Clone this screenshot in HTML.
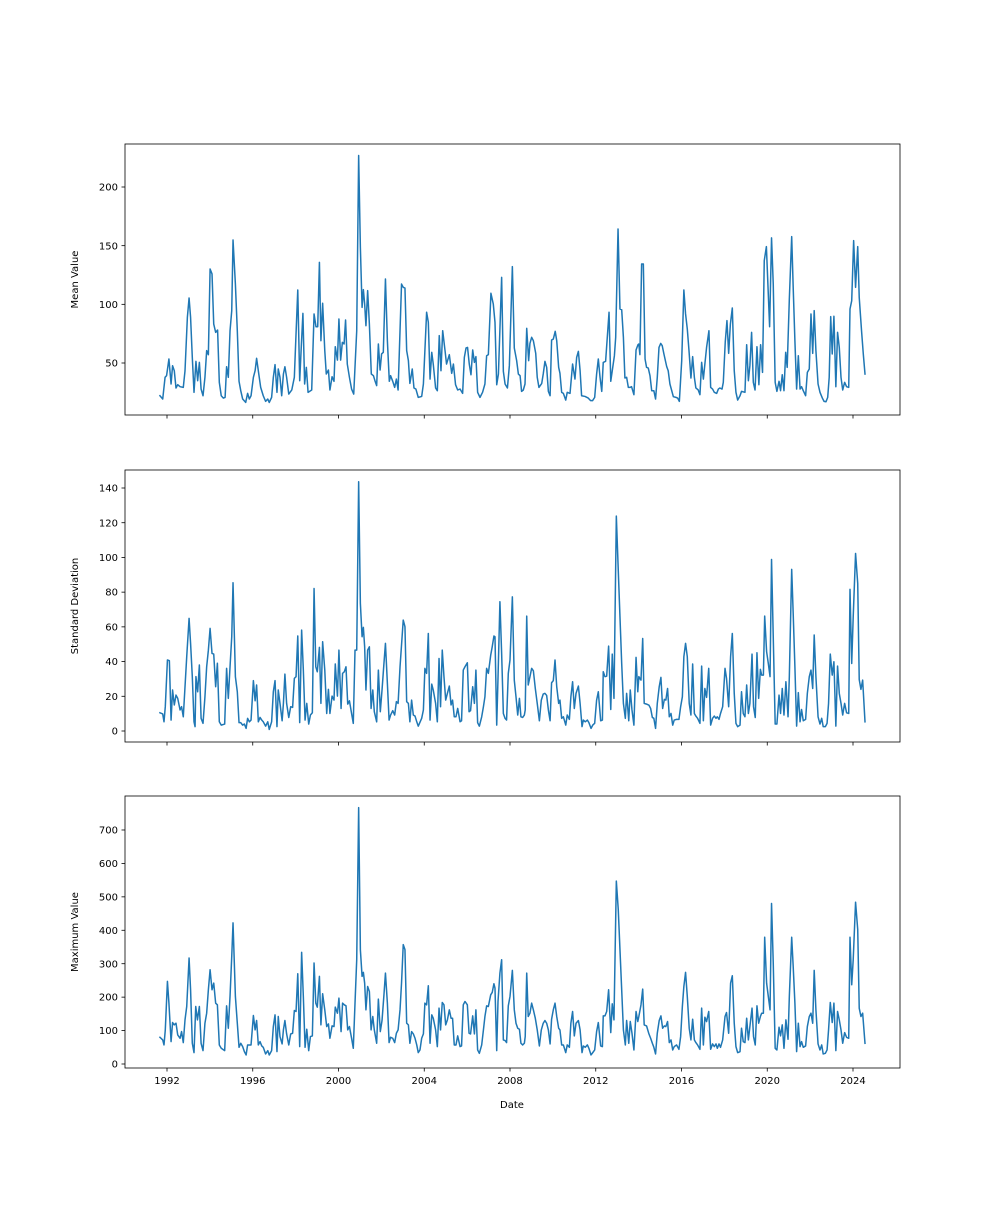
<!DOCTYPE html>
<html>
<head>
<meta charset="utf-8">
<style>
  html, body { margin: 0; padding: 0; background: #ffffff; }
  body { width: 1000px; height: 1200px; overflow: hidden; }
  svg text { font-family: "DejaVu Sans", "Liberation Sans", sans-serif; fill: #000; }
</style>
</head>
<body>
<svg id="chart" width="1000" height="1200" viewBox="0 0 1000 1200" xmlns="http://www.w3.org/2000/svg">
  <rect x="0" y="0" width="1000" height="1200" fill="#ffffff"/>
</svg>
<script>
// ---------- data ----------
const xTickYears = [1992, 1996, 2000, 2004, 2008, 2012, 2016, 2020, 2024];
const meanTicks = [50, 100, 150, 200];
const stdTicks = [0, 20, 40, 60, 80, 100, 120, 140];
const maxTicks = [0, 100, 200, 300, 400, 500, 600, 700];

const meanDates = [1991.67,1991.80,1991.91,1991.98,1992.09,1992.19,1992.26,1992.34,1992.42,1992.50,1992.61,1992.76,1992.84,1992.95,1993.03,1993.10,1993.18,1993.26,1993.35,1993.43,1993.51,1993.59,1993.68,1993.77,1993.85,1993.93,1994.01,1994.10,1994.18,1994.27,1994.36,1994.44,1994.53,1994.63,1994.71,1994.78,1994.86,1994.94,1995.02,1995.08,1995.19,1995.28,1995.36,1995.44,1995.53,1995.67,1995.76,1995.84,1995.92,1996.03,1996.11,1996.18,1996.26,1996.37,1996.49,1996.60,1996.70,1996.77,1996.88,1996.96,1997.04,1997.13,1997.19,1997.27,1997.35,1997.43,1997.50,1997.58,1997.68,1997.82,1997.94,1998.00,1998.10,1998.19,1998.27,1998.34,1998.42,1998.50,1998.58,1998.75,1998.86,1998.95,1999.03,1999.11,1999.18,1999.26,1999.36,1999.43,1999.53,1999.60,1999.70,1999.79,1999.85,1999.95,2000.02,2000.10,2000.18,2000.26,2000.33,2000.41,2000.51,2000.61,2000.71,2000.85,2000.94,2001.02,2001.10,2001.16,2001.22,2001.28,2001.36,2001.44,2001.53,2001.63,2001.70,2001.78,2001.86,2001.94,2002.01,2002.09,2002.19,2002.28,2002.37,2002.43,2002.53,2002.62,2002.70,2002.78,
2002.94,2003.02,2003.10,2003.18,2003.26,2003.33,2003.44,2003.52,2003.61,2003.72,2003.88,2003.96,2004.11,2004.19,2004.27,2004.35,2004.42,2004.53,2004.61,2004.70,2004.78,2004.86,2004.97,2005.04,2005.17,2005.28,2005.36,2005.46,2005.56,2005.67,2005.79,2005.87,2005.95,2006.02,2006.10,2006.18,2006.26,2006.34,2006.41,2006.49,2006.60,2006.72,2006.83,2006.91,2006.99,2007.11,2007.22,2007.30,2007.38,2007.46,2007.61,2007.69,2007.77,2007.88,2007.97,2008.11,2008.20,2008.31,2008.39,2008.47,2008.54,2008.62,2008.70,2008.78,2008.87,2008.93,2009.01,2009.09,2009.20,2009.27,2009.35,2009.48,2009.55,2009.63,2009.71,2009.79,2009.87,2009.94,2010.02,2010.11,2010.18,2010.27,2010.33,2010.41,2010.49,2010.60,2010.67,2010.80,2010.92,2011.03,2011.11,2011.19,2011.27,2011.34,2011.50,2011.65,2011.76,2011.85,2011.95,2012.04,2012.12,2012.20,2012.28,2012.35,2012.46,2012.62,2012.70,2012.77,2012.87,2012.93,2013.04,2013.13,2013.21,2013.29,2013.36,2013.44,2013.52,2013.60,2013.67,2013.78,2013.88,2013.97,
2014.01,2014.06,2014.14,2014.22,2014.30,2014.37,2014.45,2014.53,2014.61,2014.71,2014.79,2014.87,2014.95,2015.03,2015.10,2015.18,2015.31,2015.38,2015.46,2015.62,2015.74,2015.82,2015.90,2016.01,2016.11,2016.19,2016.27,2016.35,2016.44,2016.52,2016.60,2016.67,2016.78,2016.86,2016.94,2017.02,2017.09,2017.17,2017.28,2017.36,2017.45,2017.53,2017.64,2017.72,2017.79,2017.89,2017.95,2018.04,2018.12,2018.20,2018.28,2018.37,2018.46,2018.54,2018.62,2018.73,2018.80,2018.96,2019.04,2019.12,2019.19,2019.27,2019.35,2019.43,2019.52,2019.61,2019.69,2019.78,2019.86,2019.96,2020.03,2020.11,2020.20,2020.28,2020.37,2020.45,2020.55,2020.62,2020.70,2020.78,2020.86,2020.93,2021.03,2021.14,2021.21,2021.29,2021.37,2021.45,2021.53,2021.60,2021.68,2021.79,2021.87,2021.96,2022.04,2022.12,2022.19,2022.27,2022.37,2022.46,2022.57,2022.65,2022.74,2022.82,2022.89,2022.96,2023.03,2023.11,2023.20,2023.28,2023.36,2023.44,2023.52,2023.61,2023.70,2023.80,2023.86,2023.94,2024.03,2024.12,2024.22,2024.29,2024.40,2024.48,2024.56];
const meanValues = [22.1,19.3,37.8,39.2,53.4,32.1,47.7,43.4,28.7,31.5,29.8,29.2,43.4,88.9,105.4,88.9,54.8,25.0,51.4,34.9,50.5,27.8,22.1,37.8,60.5,57.1,130.1,125.9,83.2,76.1,78.1,33.5,22.1,20.1,20.7,46.8,37.8,77.5,94.6,154.8,117.3,77.5,34.4,26.4,19.3,16.4,24.1,19.3,22.1,37.8,43.4,54.0,43.4,29.2,22.1,17.3,19.3,16.4,20.7,37.8,48.6,25.0,44.9,37.8,22.1,40.6,46.8,37.8,23.5,27.0,37.8,66.2,112.2,34.9,66.2,92.3,32.1,46.3,25.0,27.0,91.8,80.9,80.9,135.8,69.0,100.9,60.5,40.6,44.0,27.0,38.3,34.4,63.9,52.5,87.5,52.5,67.6,66.2,86.6,49.1,37.8,27.8,23.5,77.5,226.8,148.6,97.4,112.5,100.3,81.8,111.7,83.2,40.6,39.2,34.9,30.7,66.2,44.0,57.7,59.1,121.6,69.0,34.4,39.2,34.4,29.2,36.3,27.0,
117.3,114.5,113.9,60.5,52.0,32.6,44.9,28.7,27.8,20.7,21.5,32.1,93.2,84.7,36.3,59.1,49.1,28.7,26.4,73.3,43.4,77.5,60.5,49.1,57.1,41.2,49.1,31.5,27.0,27.8,24.1,54.8,62.8,63.3,49.1,40.0,61.1,50.5,55.4,25.0,20.7,25.0,32.1,56.2,57.1,109.4,100.3,84.7,31.5,40.6,123.0,42.9,32.1,28.7,47.7,132.1,62.8,52.0,40.6,39.2,25.8,27.0,32.1,79.5,52.0,66.7,71.9,69.0,58.2,37.8,29.2,32.6,40.6,51.4,46.3,25.8,22.1,69.6,70.4,77.0,69.0,46.3,41.2,25.0,24.1,18.4,25.0,24.1,49.1,36.3,54.8,59.9,43.4,22.1,21.5,20.1,17.9,17.9,20.7,40.6,53.4,37.8,25.8,50.5,51.4,93.2,34.4,43.4,56.2,71.9,164.2,96.0,95.4,71.9,37.2,37.8,29.2,29.2,29.8,23.0,61.1,65.6,
66.2,57.1,134.4,134.4,53.4,46.3,45.7,39.2,26.4,26.4,19.3,37.8,63.3,66.7,64.8,57.7,46.9,43.4,32.1,21.3,20.7,20.1,17.3,52.0,112.2,91.8,79.0,60.5,37.2,55.4,37.8,28.7,27.0,23.0,50.5,36.3,49.1,63.3,77.5,29.2,27.8,25.0,24.1,27.8,28.7,27.8,33.5,67.6,86.1,58.2,83.2,96.9,43.4,25.0,18.4,22.1,25.8,25.0,65.6,34.9,47.7,76.1,33.5,27.0,63.9,31.5,65.6,42.0,137.2,149.2,117.3,80.9,156.6,117.3,33.5,25.8,34.4,26.4,40.0,26.4,59.1,46.3,104.5,157.7,114.5,69.0,27.8,56.2,27.8,29.8,26.4,22.1,42.0,44.9,91.8,58.2,94.6,60.5,32.1,25.0,20.1,17.3,17.0,20.7,37.8,89.5,57.7,89.8,29.8,76.1,63.3,37.8,27.0,33.5,29.8,29.2,96.0,103.1,154.3,114.5,149.2,106.0,77.0,57.7,40.6];

const stdDates = [1991.67,1991.80,1991.86,1991.92,1992.02,1992.11,1992.19,1992.26,1992.34,1992.42,1992.50,1992.61,1992.68,1992.76,1992.84,1992.92,1993.03,1993.10,1993.18,1993.26,1993.31,1993.35,1993.43,1993.51,1993.59,1993.68,1993.77,1993.85,1993.93,1994.01,1994.10,1994.18,1994.27,1994.35,1994.44,1994.53,1994.69,1994.78,1994.86,1994.94,1995.02,1995.08,1995.19,1995.28,1995.36,1995.44,1995.53,1995.61,1995.69,1995.76,1995.84,1995.92,1996.03,1996.11,1996.18,1996.26,1996.34,1996.42,1996.49,1996.60,1996.70,1996.77,1996.88,1996.96,1997.04,1997.13,1997.19,1997.27,1997.37,1997.43,1997.50,1997.58,1997.68,1997.77,1997.86,1997.94,1998.02,1998.10,1998.19,1998.28,1998.36,1998.44,1998.52,1998.61,1998.69,1998.78,1998.86,1998.94,1999.01,1999.11,1999.18,1999.26,1999.36,1999.45,1999.53,1999.60,1999.70,1999.79,1999.85,1999.95,2000.02,2000.12,2000.19,2000.27,2000.35,2000.43,2000.51,2000.61,2000.69,2000.77,2000.85,2000.94,2001.02,2001.10,2001.16,2001.22,2001.28,2001.36,2001.44,2001.52,2001.60,2001.67,2001.78,2001.86,2001.95,2002.03,2002.12,2002.19,2002.28,2002.36,2002.43,2002.53,2002.62,2002.70,2002.78,
2002.87,2003.02,2003.10,2003.18,2003.26,2003.33,2003.41,2003.49,2003.57,2003.65,2003.72,2003.88,2003.96,2004.03,2004.11,2004.19,2004.27,2004.35,2004.42,2004.53,2004.61,2004.69,2004.76,2004.84,2004.92,2005.00,2005.08,2005.17,2005.25,2005.32,2005.40,2005.48,2005.56,2005.67,2005.74,2005.82,2005.90,2006.01,2006.09,2006.16,2006.26,2006.34,2006.41,2006.49,2006.57,2006.68,2006.76,2006.83,2006.91,2006.99,2007.10,2007.17,2007.25,2007.30,2007.38,2007.44,2007.53,2007.61,2007.69,2007.77,2007.84,2007.92,2008.00,2008.11,2008.20,2008.28,2008.36,2008.44,2008.51,2008.59,2008.67,2008.71,2008.78,2008.85,2008.93,2009.01,2009.09,2009.18,2009.27,2009.37,2009.46,2009.55,2009.63,2009.71,2009.79,2009.87,2009.94,2010.02,2010.10,2010.18,2010.27,2010.33,2010.41,2010.49,2010.60,2010.67,2010.77,2010.84,2010.92,2011.00,2011.08,2011.19,2011.27,2011.36,2011.42,2011.51,2011.61,2011.68,2011.78,2011.86,2011.95,2012.04,2012.12,2012.23,2012.31,2012.35,2012.43,2012.51,2012.60,2012.70,2012.77,2012.85,2012.96,2013.05,2013.13,2013.21,2013.29,2013.38,2013.44,2013.54,2013.61,2013.69,2013.78,2013.88,2013.96,
2014.01,2014.11,2014.19,2014.26,2014.37,2014.48,2014.56,2014.64,2014.71,2014.79,2014.87,2014.96,2015.04,2015.12,2015.20,2015.27,2015.35,2015.43,2015.51,2015.59,2015.66,2015.77,2015.88,2015.96,2016.04,2016.11,2016.19,2016.27,2016.36,2016.44,2016.52,2016.60,2016.67,2016.75,2016.86,2016.94,2017.02,2017.09,2017.17,2017.27,2017.36,2017.45,2017.53,2017.61,2017.67,2017.75,2017.82,2017.92,2018.03,2018.10,2018.20,2018.29,2018.37,2018.46,2018.54,2018.62,2018.73,2018.80,2018.88,2018.96,2019.04,2019.12,2019.19,2019.29,2019.36,2019.44,2019.52,2019.60,2019.68,2019.74,2019.82,2019.88,2019.97,2020.05,2020.13,2020.20,2020.28,2020.37,2020.45,2020.55,2020.62,2020.70,2020.78,2020.87,2020.97,2021.03,2021.14,2021.21,2021.29,2021.37,2021.45,2021.53,2021.60,2021.68,2021.79,2021.87,2021.96,2022.04,2022.12,2022.19,2022.27,2022.37,2022.46,2022.54,2022.61,2022.71,2022.79,2022.86,2022.94,2023.03,2023.11,2023.20,2023.28,2023.36,2023.44,2023.52,2023.61,2023.70,2023.80,2023.86,2023.94,2024.01,2024.12,2024.22,2024.29,2024.37,2024.45,2024.56];
const stdValues = [10.5,9.8,5.3,14.0,40.9,40.5,6.3,23.6,15.0,20.7,18.8,12.1,14.0,8.2,25.5,42.8,64.9,50.5,31.3,5.3,2.5,31.3,22.6,38.0,7.3,4.4,19.7,37.0,46.6,59.1,44.7,44.3,25.5,39.0,5.3,3.4,4.0,36.1,18.8,37.0,54.3,85.4,31.3,22.6,4.8,4.8,3.4,4.0,1.5,7.3,5.3,6.3,29.0,17.4,26.5,5.3,7.8,6.3,5.3,2.8,5.3,0.9,5.3,22.6,29.0,2.5,23.6,15.9,5.9,15.9,32.8,15.9,7.8,14.0,13.6,30.3,31.3,54.7,4.8,58.1,35.1,6.3,15.9,4.0,9.2,10.5,82.1,37.0,34.1,48.2,15.9,51.4,35.1,10.1,24.0,10.1,20.1,17.8,38.6,20.1,46.6,13.0,33.2,34.1,37.0,15.5,17.4,10.1,4.4,46.6,46.6,143.6,73.5,54.3,59.7,48.5,23.6,46.6,48.5,13.0,23.6,11.1,5.3,35.1,11.1,23.6,39.0,50.5,27.4,6.3,9.2,11.7,9.2,16.9,15.9,
37.0,63.9,60.1,16.9,15.9,5.3,17.8,9.2,8.6,5.3,2.8,7.3,12.1,36.1,33.2,56.2,6.3,27.0,23.6,15.9,5.3,41.8,14.0,46.6,31.3,17.8,21.7,25.9,15.0,17.8,8.2,8.2,13.0,5.3,5.9,35.1,37.0,39.3,11.1,11.7,25.5,15.9,35.1,4.8,2.8,8.2,14.0,19.7,36.1,33.2,43.7,48.5,54.7,54.3,3.4,30.3,74.5,44.7,10.1,7.3,6.3,33.2,40.9,77.3,29.3,19.7,9.2,18.8,8.2,7.8,9.2,12.1,66.2,26.5,31.3,36.1,34.7,24.5,15.9,5.9,17.8,21.3,21.7,20.5,12.1,5.9,27.8,29.0,40.9,25.5,15.9,17.8,7.3,8.2,3.4,9.2,6.7,19.7,28.4,13.0,21.7,25.9,15.9,2.5,6.3,5.3,6.3,4.8,1.5,3.4,4.4,17.8,22.6,5.9,6.3,34.1,31.3,31.6,48.9,12.4,44.3,18.8,123.8,92.7,65.8,38.9,15.9,7.3,21.7,5.9,23.6,12.1,3.4,42.4,22.6,
31.3,29.3,53.3,15.9,15.5,14.9,13.0,7.8,7.3,1.5,15.9,25.5,30.9,13.0,18.2,17.8,24.5,8.2,10.1,3.4,6.3,6.7,6.7,14.0,19.7,42.8,50.5,42.8,15.9,9.2,38.6,10.1,8.6,7.3,4.4,37.4,5.9,24.5,19.4,36.1,3.4,7.3,8.6,7.3,8.2,6.7,10.1,14.0,36.1,30.3,14.0,42.8,56.2,21.7,4.4,2.5,3.4,22.6,10.1,8.2,26.5,10.1,15.9,44.3,14.0,7.8,45.1,18.8,35.5,32.2,32.2,66.2,45.7,38.9,31.3,98.8,54.3,4.0,4.0,20.7,10.1,24.5,9.2,28.4,8.2,31.3,93.1,67.7,37.0,2.8,22.1,5.3,12.4,5.9,6.7,21.7,31.3,35.1,24.5,55.3,31.3,8.2,4.0,7.3,2.5,2.5,4.4,15.9,44.3,32.2,39.9,2.8,37.4,21.7,15.9,9.2,15.9,10.5,10.1,81.6,38.9,65.8,102.3,85.0,29.7,24.0,29.3,5.3];

const maxDates = [1991.67,1991.80,1991.86,1991.92,1992.02,1992.09,1992.19,1992.26,1992.34,1992.42,1992.50,1992.61,1992.68,1992.76,1992.84,1992.92,1993.03,1993.10,1993.18,1993.26,1993.34,1993.42,1993.51,1993.59,1993.68,1993.77,1993.85,1993.93,1994.01,1994.10,1994.18,1994.27,1994.35,1994.44,1994.53,1994.69,1994.78,1994.86,1994.94,1995.02,1995.08,1995.19,1995.28,1995.36,1995.44,1995.53,1995.61,1995.69,1995.76,1995.84,1995.92,1996.03,1996.11,1996.18,1996.26,1996.34,1996.42,1996.49,1996.60,1996.70,1996.77,1996.88,1996.96,1997.04,1997.13,1997.19,1997.27,1997.37,1997.43,1997.50,1997.58,1997.68,1997.77,1997.86,1997.94,1998.02,1998.10,1998.19,1998.28,1998.36,1998.44,1998.52,1998.61,1998.69,1998.78,1998.86,1998.94,1999.01,1999.11,1999.18,1999.26,1999.36,1999.45,1999.53,1999.60,1999.70,1999.79,1999.85,1999.95,2000.02,2000.12,2000.19,2000.27,2000.35,2000.43,2000.51,2000.61,2000.69,2000.77,2000.85,2000.94,2001.02,2001.10,2001.16,2001.22,2001.28,2001.36,2001.44,2001.52,2001.60,2001.67,2001.78,2001.86,2001.95,2002.03,2002.12,2002.19,2002.28,2002.36,2002.43,2002.53,2002.62,2002.70,2002.78,
2002.87,2002.94,2003.02,2003.10,2003.18,2003.26,2003.33,2003.41,2003.49,2003.57,2003.65,2003.72,2003.80,2003.88,2003.96,2004.03,2004.11,2004.19,2004.27,2004.35,2004.42,2004.53,2004.61,2004.69,2004.76,2004.84,2004.92,2005.00,2005.08,2005.17,2005.25,2005.32,2005.40,2005.48,2005.56,2005.67,2005.74,2005.82,2005.90,2006.01,2006.09,2006.16,2006.26,2006.34,2006.41,2006.49,2006.57,2006.68,2006.76,2006.83,2006.91,2006.99,2007.10,2007.17,2007.25,2007.30,2007.38,2007.44,2007.53,2007.61,2007.69,2007.77,2007.84,2007.92,2008.00,2008.11,2008.20,2008.28,2008.36,2008.44,2008.51,2008.59,2008.67,2008.71,2008.78,2008.85,2008.93,2009.01,2009.09,2009.18,2009.27,2009.37,2009.46,2009.55,2009.63,2009.71,2009.79,2009.87,2009.94,2010.02,2010.10,2010.18,2010.27,2010.33,2010.41,2010.49,2010.60,2010.67,2010.77,2010.84,2010.92,2011.00,2011.08,2011.19,2011.27,2011.36,2011.42,2011.51,2011.61,2011.68,2011.78,2011.86,2011.95,2012.04,2012.12,2012.23,2012.31,2012.35,2012.43,2012.51,2012.60,2012.70,2012.77,2012.85,2012.96,2013.05,2013.13,2013.21,2013.29,2013.38,2013.44,2013.54,2013.61,2013.69,2013.78,2013.88,2013.96,
2014.01,2014.11,2014.19,2014.26,2014.37,2014.48,2014.56,2014.64,2014.71,2014.79,2014.87,2014.96,2015.04,2015.12,2015.20,2015.27,2015.35,2015.43,2015.51,2015.59,2015.66,2015.77,2015.88,2015.96,2016.04,2016.11,2016.19,2016.27,2016.36,2016.44,2016.52,2016.60,2016.67,2016.75,2016.86,2016.94,2017.02,2017.09,2017.17,2017.27,2017.36,2017.45,2017.53,2017.61,2017.67,2017.75,2017.82,2017.92,2018.03,2018.10,2018.20,2018.29,2018.37,2018.46,2018.54,2018.62,2018.73,2018.80,2018.88,2018.96,2019.04,2019.12,2019.19,2019.29,2019.36,2019.44,2019.52,2019.60,2019.68,2019.74,2019.82,2019.88,2019.97,2020.05,2020.13,2020.20,2020.28,2020.37,2020.45,2020.55,2020.62,2020.70,2020.78,2020.87,2020.97,2021.03,2021.14,2021.21,2021.29,2021.37,2021.45,2021.53,2021.60,2021.68,2021.79,2021.87,2021.96,2022.04,2022.12,2022.19,2022.27,2022.37,2022.46,2022.54,2022.61,2022.71,2022.79,2022.86,2022.94,2023.03,2023.11,2023.20,2023.28,2023.36,2023.44,2023.52,2023.61,2023.70,2023.80,2023.86,2023.94,2024.01,2024.12,2024.22,2024.29,2024.37,2024.45,2024.56];
const maxValues = [80,72,57,102,247,182,67,124,117,122,87,77,97,64,132,172,317,222,62,34,172,132,172,62,40,122,152,222,282,222,242,182,177,57,47,40,174,107,202,322,422,202,122,50,62,52,37,27,57,57,57,145,102,130,57,67,54,50,30,40,27,40,112,147,37,142,82,60,102,130,90,57,90,92,160,157,270,52,334,202,50,104,40,82,84,302,182,170,262,117,210,162,112,120,77,114,112,170,152,197,97,182,177,174,102,112,77,47,182,312,767,342,262,274,242,162,232,217,102,142,102,62,194,97,130,207,272,182,64,80,77,64,92,102,
162,242,357,342,122,117,62,97,90,77,57,34,42,77,90,182,177,234,62,147,137,102,52,167,102,184,177,117,132,162,137,137,57,57,84,52,54,177,187,177,92,90,144,90,162,42,32,57,102,142,174,172,207,214,240,227,40,187,272,312,72,70,64,174,202,280,162,122,107,104,62,57,62,82,272,142,152,182,162,137,102,54,102,122,130,122,102,60,134,162,182,142,107,102,57,57,34,57,50,122,157,84,122,130,102,34,54,50,57,47,27,34,42,97,124,54,52,144,144,157,222,94,180,132,547,462,342,222,102,57,130,62,127,92,42,157,127,
142,177,224,117,114,90,77,62,50,30,92,130,144,107,114,112,127,64,72,42,52,57,44,82,172,232,274,202,107,72,134,72,64,57,44,167,57,140,127,157,44,60,52,60,47,60,50,72,142,154,92,242,264,122,52,34,37,107,67,64,137,72,112,167,82,57,174,122,142,152,152,379,242,202,162,480,302,47,42,110,84,117,47,132,74,202,379,292,182,37,122,52,67,50,54,112,142,152,122,280,162,60,42,57,30,32,42,102,184,124,182,40,157,132,102,62,94,80,77,379,237,312,484,402,167,142,152,62];

// ---------- layout ----------
const NS = 'http://www.w3.org/2000/svg';
const svg = document.getElementById('chart');
const AX_L = 125, AX_R = 900;
const LINE_COLOR = '#1f77b4';

function xScale(year) { return 167 + (year - 1992) * 21.4375; }

const panels = [
  { name: 'mean', top: 144, bottom: 415, label: 'Mean Value', labelX: 78, dates: meanDates, values: meanValues, ticks: meanTicks,
    y: v => 363 - (v - 50) * 1.1733 },
  { name: 'std', top: 470, bottom: 742, label: 'Standard Deviation', labelX: 78, dates: stdDates, values: stdValues, ticks: stdTicks,
    y: v => 731 - v * 1.7357 },
  { name: 'max', top: 796, bottom: 1068, label: 'Maximum Value', labelX: 78, dates: maxDates, values: maxValues, ticks: maxTicks,
    y: v => 1064 - v * 0.3343 }
];

function mk(tag, attrs) {
  const el = document.createElementNS(NS, tag);
  for (const k in attrs) el.setAttribute(k, attrs[k]);
  return el;
}

panels.forEach((p, idx) => {
  const g = mk('g', {});
  
  
  svg.appendChild(g);

  // series line
  let d = '';
  for (let i = 0; i < p.dates.length; i++) {
    d += (i === 0 ? 'M' : 'L') + xScale(p.dates[i]).toFixed(2) + ',' + p.y(p.values[i]).toFixed(2);
  }
  const path = mk('path', { d: d, fill: 'none', stroke: LINE_COLOR, 'stroke-width': 1.5, 'stroke-linejoin': 'round', 'stroke-linecap': 'square' });
  
  
  g.appendChild(path);

  // frame
  const frame = mk('rect', { x: AX_L, y: p.top, width: AX_R - AX_L, height: p.bottom - p.top, fill: 'none', stroke: '#000', 'stroke-width': 0.8 });
  
  
  g.appendChild(frame);

  // y ticks
  p.ticks.forEach(t => {
    const yy = p.y(t);
    const tk = mk('line', { x1: AX_L - 3.5, x2: AX_L, y1: yy, y2: yy, stroke: '#000', 'stroke-width': 0.8 });
    
    
    g.appendChild(tk);
    const tl = mk('text', { x: AX_L - 7, y: yy + 3.6, 'text-anchor': 'end', 'font-size': 10 });
    tl.textContent = String(t);
    
    
    g.appendChild(tl);
  });

  // x ticks
  xTickYears.forEach(yr => {
    const xx = xScale(yr);
    const tk = mk('line', { x1: xx, x2: xx, y1: p.bottom, y2: p.bottom + 3.5, stroke: '#000', 'stroke-width': 0.8 });
    
    
    g.appendChild(tk);
    if (idx === panels.length - 1) {
      const tl = mk('text', { x: xx, y: p.bottom + 16, 'text-anchor': 'middle', 'font-size': 10 });
      tl.textContent = String(yr);
      
      
      g.appendChild(tl);
    }
  });

  // y label
  const cy = (p.top + p.bottom) / 2;
  const yl = mk('text', { x: p.labelX, y: cy, 'text-anchor': 'middle', 'font-size': 10, transform: 'rotate(-90 ' + p.labelX + ' ' + cy + ')' });
  yl.textContent = p.label;
  
  
  g.appendChild(yl);
});

const xt = mk('text', { x: 512, y: 1108, 'text-anchor': 'middle', 'font-size': 10 });
xt.textContent = 'Date';


svg.appendChild(xt);
</script>
</body>
</html>
